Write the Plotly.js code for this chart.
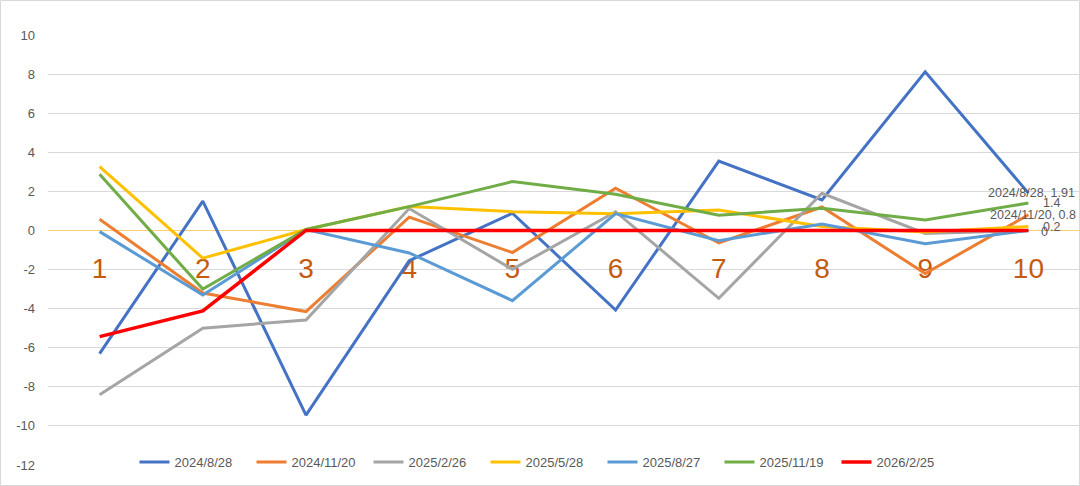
<!DOCTYPE html>
<html>
<head>
<meta charset="utf-8">
<script src="https://cdn.plot.ly/plotly-3.0.1.min.js"></script>
<style>html,body{margin:0;padding:0;background:#fff;}#chart{width:1080px;height:486px;}</style>
</head>
<body>
<div id="chart"></div>
<script>
const categories = [1, 2, 3, 4, 5, 6, 7, 8, 9, 10];
const seriesNames = ['2024/8/28', '2024/11/20', '2025/2/26', '2025/5/28', '2025/8/27', '2025/11/19', '2026/2/25'];
const s20240828 = [-6.3, 1.5, -9.45, -1.55, 0.88, -4.07, 3.55, 1.56, 8.12, 1.91];
const s20241120 = [0.57, -3.2, -4.15, 0.68, -1.13, 2.16, -0.64, 1.2, -2.2, 0.8];
const s20250226 = [-8.4, -5.0, -4.58, 1.12, -1.99, 0.96, -3.47, 1.9, -0.15, 0];
const s20250528 = [3.26, -1.42, 0.05, 1.22, 0.96, 0.85, 1.05, 0.2, -0.08, 0.2];
const s20250827 = [-0.06, -3.3, 0.05, -1.15, -3.59, 0.86, -0.52, 0.33, -0.68, 0];
const s20251119 = [2.87, -3.0, 0.05, 1.22, 2.5, 1.85, 0.78, 1.13, 0.54, 1.4];
const s20260225 = [-5.43, -4.12, 0, 0, 0, 0, 0, 0, 0, 0];
const yTicks = [10, 8, 6, 4, 2, 0, -2, -4, -6, -8, -10, -12];

const allSeries = [s20240828, s20241120, s20250226, s20250528, s20250827, s20251119, s20260225];
const colors = ['#4472C4', '#ED7D31', '#A5A5A5', '#FFC000', '#5B9BD5', '#70AD47', '#FF0000'];
const widths = [3, 3, 3, 3, 3, 3, 3.5];

const traces = allSeries.map((vals, i) => ({
  type: 'scatter', mode: 'lines', x: categories, y: vals, name: seriesNames[i],
  line: {color: colors[i], width: widths[i]}, hoverinfo: 'skip'
}));

const lastIdx = categories.length - 1;
const lastX = categories[lastIdx];
const labelFont = {family: 'Liberation Sans, Arial, sans-serif', size: 12.5, color: '#595959'};
const annotations = [
  {x: lastX, y: s20240828[lastIdx], text: seriesNames[0] + ', ' + s20240828[lastIdx], xanchor: 'right', xshift: 49},
  {x: lastX, y: s20251119[lastIdx], text: String(s20251119[lastIdx]), xanchor: 'left', xshift: 13},
  {x: lastX, y: s20241120[lastIdx], text: seriesNames[1] + ', ' + s20241120[lastIdx], xanchor: 'right', xshift: 50},
  {x: lastX, y: s20250528[lastIdx], text: String(s20250528[lastIdx]), xanchor: 'left', xshift: 13},
  {x: lastX, y: s20250226[lastIdx], text: String(s20250226[lastIdx]), xanchor: 'left', xshift: 11, yshift: -2}
].map(a => Object.assign({xref: 'x', yref: 'y', yanchor: 'middle', showarrow: false, font: labelFont}, a));

const W = 1080, H = 486, mL = 48, mR = 0, mT = 35, mB = 21;
const pw = W - mL - mR, ph = H - mT - mB;
const yMin = -12, yMax = 10;
const layout = {
  width: W, height: H,
  margin: {l: mL, r: mR, t: mT, b: mB, autoexpand: false},
  paper_bgcolor: '#fff', plot_bgcolor: '#fff',
  font: {family: 'Liberation Sans, Arial, sans-serif', color: '#595959'},
  showlegend: true,
  legend: {orientation: 'h', xref: 'paper', x: 0.4806, xanchor: 'center', yref: 'paper', y: 0.007, yanchor: 'middle',
           font: {size: 13, color: '#595959'}, bgcolor: 'rgba(0,0,0,0)', traceorder: 'normal',
           entrywidth: 72, entrywidthmode: 'pixels'},
  xaxis: {
    range: [0.5, 10.5], tickvals: categories, ticktext: categories.map(String),
    showgrid: false, zeroline: false, automargin: false,
    anchor: 'free', position: (0 - yMin) / (yMax - yMin),
    showline: true, linecolor: '#F9CF74', linewidth: 1, layer: 'below traces',
    ticks: '', ticklabelstandoff: 13,
    tickfont: {size: 28, color: '#C55A11', family: 'Liberation Sans, Arial, sans-serif'}
  },
  yaxis: {
    range: [yMin, yMax], tickvals: yTicks, ticktext: yTicks.map(String), automargin: false,
    showgrid: true, gridcolor: '#D9D9D9', gridwidth: 1, zeroline: false, showline: false,
    ticks: '', ticklabelstandoff: 12,
    tickfont: {size: 13, color: '#595959'}
  },
  shapes: [{
    type: 'rect', xref: 'paper', yref: 'paper',
    x0: (0.5 - mL) / pw, x1: (W - mL - 0.5) / pw,
    y0: (0.5 - mB) / ph, y1: (H - mB - 0.5) / ph,
    line: {color: '#D9D9D9', width: 1}, fillcolor: 'rgba(0,0,0,0)', layer: 'below'
  }],
  annotations: annotations
};

Plotly.newPlot('chart', traces, layout, {staticPlot: true});
</script>
</body>
</html>
